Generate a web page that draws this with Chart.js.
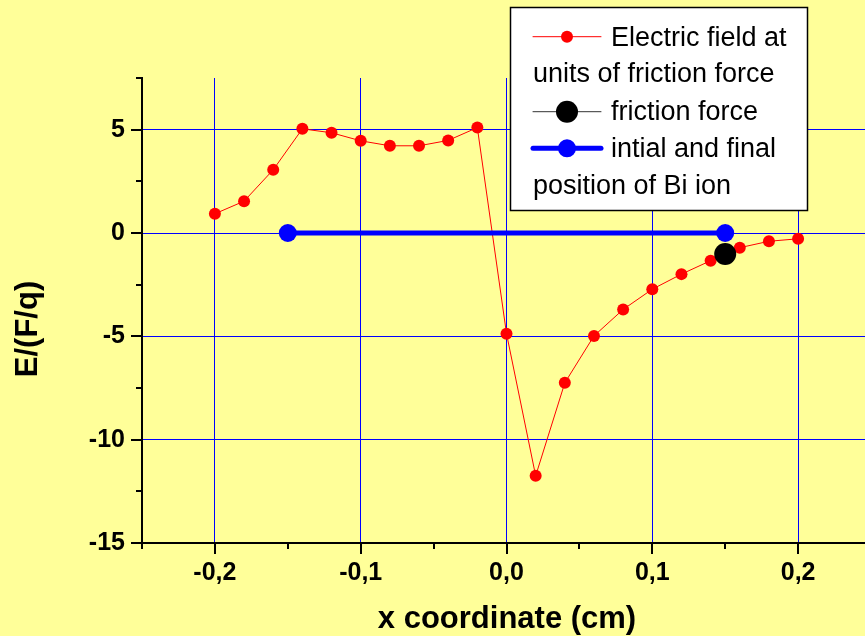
<!DOCTYPE html>
<html>
<head>
<meta charset="utf-8">
<script src="https://cdn.jsdelivr.net/npm/chart.js@4.4.0/dist/chart.umd.min.js"></script>
<style>
  html, body { margin: 0; padding: 0; background: #FFFF99; overflow: hidden; }
  #wrap { width: 900px; height: 636px; }
  canvas { display: block; }
</style>
</head>
<body>
<div id="wrap"><canvas id="fieldChart" width="900" height="636" style="width:900px;height:636px"></canvas></div>
<script>
// electric field curve (units of friction force)
const xPos = [-0.2, -0.18, -0.16, -0.14, -0.12, -0.1, -0.08, -0.06, -0.04, -0.02, 0,
              0.02, 0.04, 0.06, 0.08, 0.1, 0.12, 0.14, 0.16, 0.18, 0.2];
const fieldValues = [0.93, 1.54, 3.06, 5.04, 4.85, 4.46, 4.22, 4.22, 4.48, 5.1, -4.87,
                     -11.75, -7.25, -4.98, -3.7, -2.72, -1.99, -1.34, -0.71, -0.4, -0.28];
// friction force point
const frictionX = [0.15];
const frictionY = [-1.02];
// initial and final position of the ion
const ionX = [-0.15, 0.15];
const ionY = [0, 0];

const legendLines = [
  ['Electric field at', 'units of friction force'],
  ['friction force'],
  ['intial and final', 'position of Bi ion']
];
const xTitle = 'x coordinate (cm)';
const yTitle = 'E/(F/q)';

const FONT = '"Liberation Sans", Arial, Helvetica, sans-serif';

function pts(xs, ys) {
  return xs.map((x, i) => ({ x: x, y: ys[i] }));
}
function isMajor(v, step) {
  return Math.abs(v / step - Math.round(v / step)) < 1e-6;
}

const decorPlugin = {
  id: 'decor',
  afterDraw(chart) {
    const c = chart.ctx;
    const xs = chart.scales.x, ys = chart.scales.y;
    const area = chart.chartArea;

    // tick marks (major + minor), pointing outward
    c.save();
    c.strokeStyle = '#000';
    c.lineWidth = 2;
    c.beginPath();
    xs.ticks.forEach(t => {
      const px = Math.round(xs.getPixelForValue(t.value));
      const len = isMajor(t.value, 0.1) ? 11 : 6;
      c.moveTo(px, area.bottom);
      c.lineTo(px, area.bottom + len);
    });
    ys.ticks.forEach(t => {
      const py = Math.round(ys.getPixelForValue(t.value));
      const len = isMajor(t.value, 5) ? 11 : 6;
      c.moveTo(area.left, py);
      c.lineTo(area.left - len, py);
    });
    c.stroke();

    // axis titles (x title centred on the visible part of the axis)
    c.fillStyle = '#000';
    c.font = 'bold 31px ' + FONT;
    c.textAlign = 'center';
    c.textBaseline = 'alphabetic';
    c.fillText(xTitle, 507, 628);
    c.translate(37, 329);
    c.rotate(-Math.PI / 2);
    c.fillText(yTitle, 0, 0);
    c.restore();

    // legend box
    c.save();
    c.fillStyle = '#fff';
    c.fillRect(510, 7, 298, 204);
    c.strokeStyle = '#000';
    c.lineWidth = 1.5;
    c.strokeRect(510.5, 7.5, 297, 203);

    const ds = chart.data.datasets;
    const rows = [36.7, 111.7, 148.3];
    const textRows = [[45.7, 82.3], [120], [156.7, 194.3]];
    c.font = '27px ' + FONT;
    c.textAlign = 'left';
    c.textBaseline = 'alphabetic';
    ds.forEach((d, i) => {
      const y = rows[i];
      c.strokeStyle = d.legendLine || d.borderColor;
      c.lineWidth = d.borderWidth;
      c.lineCap = 'round';
      c.beginPath();
      c.moveTo(533, y);
      c.lineTo(601, y);
      c.stroke();
      c.fillStyle = d.pointBackgroundColor;
      c.beginPath();
      c.arc(567, y, d.pointRadius, 0, Math.PI * 2);
      c.fill();
      c.fillStyle = '#000';
      legendLines[i].forEach((line, k) => {
        c.fillText(line, k === 0 ? 611 : 533, textRows[i][k]);
      });
    });
    c.restore();
  }
};

const chart = new Chart(document.getElementById('fieldChart'), {
  type: 'scatter',
  data: {
    datasets: [
      {
        label: legendLines[0].join(' '),
        data: pts(xPos, fieldValues),
        showLine: true,
        borderColor: '#FF0000',
        borderWidth: 1,
        pointRadius: 6,
        pointBackgroundColor: '#FF0000',
        pointBorderWidth: 0,
        order: 3
      },
      {
        label: legendLines[1].join(' '),
        data: pts(frictionX, frictionY),
        showLine: false,
        borderColor: '#000000',
        legendLine: '#333333',
        borderWidth: 1,
        pointRadius: 11,
        pointBackgroundColor: '#000000',
        pointBorderWidth: 0,
        order: 1
      },
      {
        label: legendLines[2].join(' '),
        data: pts(ionX, ionY),
        showLine: true,
        borderColor: '#0000FF',
        borderWidth: 5,
        pointRadius: 9,
        pointBackgroundColor: '#0000FF',
        pointBorderWidth: 0,
        order: 2
      }
    ]
  },
  options: {
    responsive: false,
    animation: false,
    devicePixelRatio: 1,
    layout: { padding: { top: 78, right: 29, left: 0, bottom: 0 } },
    plugins: {
      legend: { display: false },
      tooltip: { enabled: false }
    },
    scales: {
      x: {
        type: 'linear',
        min: -0.25,
        max: 0.25,
        afterFit(s) { s.height = 93; s.paddingLeft = 0; s.paddingRight = 0; },
        grid: {
          drawTicks: false,
          color: ctx => (ctx.tick && isMajor(ctx.tick.value, 0.1) ? '#0000FF' : 'rgba(0,0,0,0)'),
          lineWidth: 1
        },
        border: { display: true, color: '#000', width: 2 },
        ticks: {
          stepSize: 0.05,
          autoSkip: false,
          maxRotation: 0,
          padding: 15,
          color: '#000',
          font: { family: FONT, size: 25, weight: 'bold' },
          callback: v => (isMajor(v, 0.1) ? (Math.round(v * 10) / 10).toFixed(1).replace('.', ',') : '')
        }
      },
      y: {
        type: 'linear',
        min: -15,
        max: 7.5,
        afterFit(s) { s.width = 142; s.paddingTop = 0; s.paddingBottom = 0; },
        grid: {
          drawTicks: false,
          color: ctx => (ctx.tick && isMajor(ctx.tick.value, 5) ? '#0000FF' : 'rgba(0,0,0,0)'),
          lineWidth: 1
        },
        border: { display: true, color: '#000', width: 2 },
        ticks: {
          stepSize: 2.5,
          autoSkip: false,
          padding: 17,
          color: '#000',
          font: { family: FONT, size: 25, weight: 'bold' },
          callback: v => (isMajor(v, 5) ? String(Math.round(v)) : '')
        }
      }
    }
  },
  plugins: [decorPlugin]
});

// the plot runs past the window edge; pin the right end of the x axis (0.25) at 871px
const wantRight = 871;
for (let k = 0; k < 3 && Math.abs(chart.chartArea.right - wantRight) > 0.5; k++) {
  chart.config.options.layout.padding.right += chart.chartArea.right - wantRight;
  chart.update();
}
</script>
</body>
</html>
